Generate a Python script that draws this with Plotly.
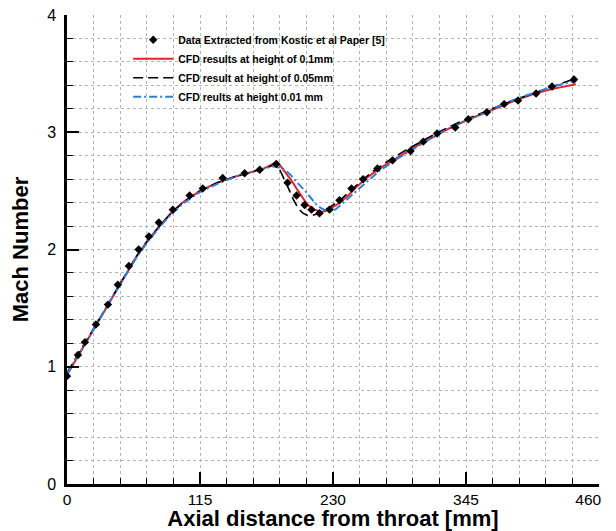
import plotly.graph_objects as go

# Data extracted from Kostic et al (markers)
data_x = [0, 9.5, 15.5, 25, 35.4, 44, 53.5, 62, 70.8, 79.4, 91.5, 106, 117.4, 134.6, 153.6, 166.6, 181,
          190.7, 198.5, 205.4, 211.4, 218.3, 227, 235.6, 246, 256, 268.4, 281.4, 297, 308, 320, 335.7,
          347, 363, 378, 390, 405.6, 419.4, 438.4]
data_y = [0.92, 1.10, 1.21, 1.36, 1.53, 1.70, 1.86, 2.00, 2.11, 2.23, 2.34, 2.46, 2.52, 2.61, 2.65, 2.68, 2.73,
          2.57, 2.46, 2.38, 2.34, 2.31, 2.34, 2.42, 2.52, 2.60, 2.69, 2.76, 2.84, 2.92, 2.99, 3.04,
          3.11, 3.17, 3.24, 3.27, 3.33, 3.39, 3.45]

# CFD at height 0.1 mm (red)
red_x = [0, 10, 20, 30, 40, 50, 60, 70, 80, 90, 100, 115, 130, 145, 160, 170, 176, 180, 184, 188, 194, 198.5,
         203, 208, 214, 220, 224, 233, 242, 250, 259, 270, 285, 300, 315, 330, 345, 360, 375, 390, 405, 420, 440]
red_y = [0.93, 1.10, 1.27, 1.44, 1.61, 1.78, 1.94, 2.08, 2.20, 2.31, 2.40, 2.50, 2.57, 2.62, 2.66, 2.69, 2.72,
         2.74, 2.72, 2.67, 2.59, 2.52, 2.45, 2.38, 2.34, 2.32, 2.33, 2.38, 2.45, 2.53, 2.61, 2.69, 2.78, 2.87,
         2.95, 3.03, 3.10, 3.16, 3.22, 3.28, 3.33, 3.37, 3.41]

# CFD at height 0.05 mm (black dashed)
blk_x = [0, 10, 20, 30, 40, 50, 60, 70, 80, 90, 100, 115, 130, 145, 160, 170, 176, 180, 184, 188, 192, 196,
         200, 204, 208, 212, 218, 227, 236, 245, 255, 265, 280, 295, 310, 325, 340, 355, 370, 385, 400, 415, 430, 440]
blk_y = [0.95, 1.11, 1.27, 1.44, 1.61, 1.78, 1.94, 2.08, 2.20, 2.31, 2.40, 2.50, 2.57, 2.62, 2.66, 2.69, 2.71,
         2.73, 2.68, 2.60, 2.51, 2.42, 2.35, 2.31, 2.29, 2.29, 2.31, 2.36, 2.42, 2.50, 2.59, 2.67, 2.77, 2.86,
         2.94, 3.02, 3.09, 3.15, 3.21, 3.27, 3.32, 3.37, 3.42, 3.46]

# CFD at height 0.01 mm (blue dash-dot)
blu_x = [0, 10, 20, 30, 40, 50, 60, 70, 80, 90, 100, 115, 130, 145, 160, 170, 178, 183, 188, 193, 199, 205,
         210, 215, 220, 225, 232, 240, 250, 260, 270, 285, 300, 315, 330, 345, 360, 375, 390, 405, 420, 440]
blu_y = [0.94, 1.10, 1.27, 1.44, 1.61, 1.77, 1.93, 2.07, 2.19, 2.30, 2.39, 2.49, 2.56, 2.62, 2.66, 2.69, 2.71,
         2.70, 2.68, 2.64, 2.57, 2.51, 2.45, 2.39, 2.35, 2.33, 2.34, 2.41, 2.50, 2.59, 2.67, 2.77, 2.86, 2.95,
         3.03, 3.10, 3.16, 3.23, 3.29, 3.34, 3.39, 3.44]

x_ticks = [0, 115, 230, 345, 460]
x_tick_labels = ["0", "115", "230", "345", "460&nbsp;&nbsp;&nbsp;&nbsp;&nbsp;"]
y_ticks = [0, 1, 2, 3, 4]
y_tick_labels = ["0", "1", "2", "3", "4"]

FONT = "Liberation Sans, Arial, sans-serif"

fig = go.Figure()
fig.add_trace(go.Scatter(x=red_x, y=red_y, mode="lines", name="<b>CFD results at height of 0.1mm</b>",
                         line=dict(color="#e8202a", width=2), legendrank=2))
fig.add_trace(go.Scatter(x=blk_x, y=blk_y, mode="lines", name="<b>CFD result at height of 0.05mm</b>",
                         line=dict(color="black", width=1.6, dash="10px,5px"), legendrank=3))
fig.add_trace(go.Scatter(x=blu_x, y=blu_y, mode="lines", name="<b>CFD reults at height 0.01 mm</b>",
                         line=dict(color="#2a7fd6", width=2, dash="8px,3px,2px,3px"), legendrank=4))
fig.add_trace(go.Scatter(x=data_x, y=data_y, mode="markers",
                         name="<b>Data Extracted from Kostic et al Paper [5]</b>",
                         marker=dict(symbol="diamond", size=6.5, color="black"), legendrank=1))

grid = dict(showgrid=True, gridcolor="#b5b5b5", griddash="dot", gridwidth=1)

fig.update_xaxes(range=[0, 460], tickvals=x_ticks, ticktext=x_tick_labels,
                 ticks="inside", ticklen=12, tickwidth=2, tickcolor="black",
                 showline=True, linecolor="black", linewidth=2.5, zeroline=False, automargin=False,
                 tickfont=dict(family=FONT, size=15.5, color="black"), ticklabeloverflow="allow",
                 minor=dict(dtick=23, tick0=0, ticks="inside", ticklen=6, tickwidth=1, tickcolor="black",
                            **grid),
                 title=dict(text="<b>Axial distance from throat [mm]</b>",
                            font=dict(family=FONT, size=22, color="black"), standoff=6),
                 **grid)
fig.update_yaxes(range=[0, 4], tickvals=y_ticks, ticktext=y_tick_labels,
                 ticks="inside", ticklen=12, tickwidth=2, tickcolor="black",
                 showline=True, linecolor="black", linewidth=2.5, zeroline=False, automargin=False,
                 tickfont=dict(family=FONT, size=16, color="black"), ticklabelstandoff=5,
                 ticklabeloverflow="allow",
                 minor=dict(dtick=0.2, tick0=0, ticks="inside", ticklen=6, tickwidth=1, tickcolor="black",
                            **grid),
                 title=dict(text="<b>Mach Number</b>",
                            font=dict(family=FONT, size=22, color="black"), standoff=14),
                 **grid)

# the page body has an 8px margin, so the figure is sized and offset to compensate
fig.update_layout(
    width=608, height=523,
    margin=dict(l=59, r=17, t=7, b=47),
    paper_bgcolor="white", plot_bgcolor="white",
    font=dict(family=FONT, color="black"),
    legend=dict(x=0.115, y=0.978, xanchor="left", yanchor="top", bgcolor="rgba(0,0,0,0)",
                font=dict(family=FONT, size=10.5, color="black"), tracegroupgap=0, itemwidth=40),
    showlegend=True,
)

fig.write_html("out.html")
